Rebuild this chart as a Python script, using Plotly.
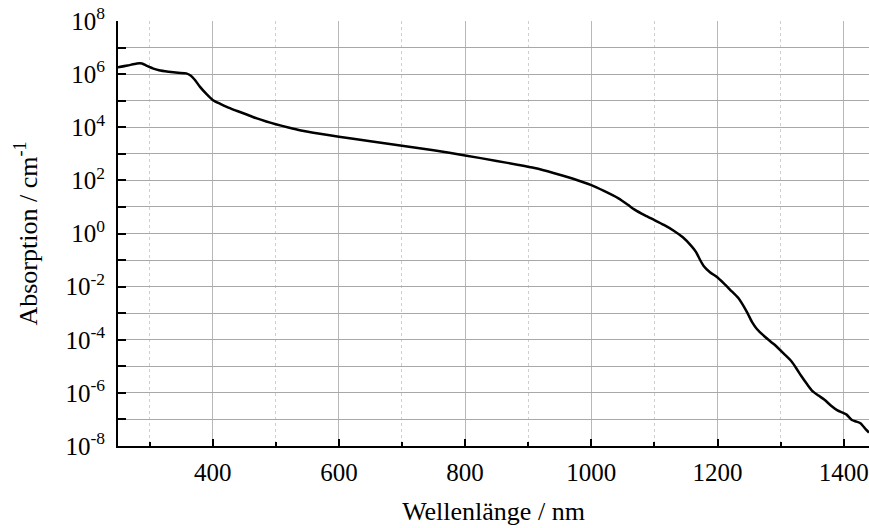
import plotly.graph_objects as go

# Wavelength (nm) and absorption coefficient (1/cm)
wavelength = [250, 265, 280, 288, 295, 305, 315, 330, 345, 358, 365, 372, 380, 390,
              400, 412, 425, 440, 455, 470, 485, 500, 520, 540, 570, 600, 650, 700,
              750, 800, 850, 885, 910, 940, 970, 1000, 1020, 1043, 1058, 1068, 1085,
              1100, 1115, 1130, 1145, 1158, 1166, 1172, 1178, 1188, 1198, 1210, 1220,
              1233, 1246, 1255, 1262, 1275, 1290, 1305, 1317, 1325, 1333, 1342, 1350,
              1360, 1369, 1380, 1390, 1404, 1413, 1420, 1427, 1435, 1440]
absorption = [1.8e6, 2.1e6, 2.5e6, 2.5e6, 2.1e6, 1.65e6, 1.4e6, 1.23e6, 1.12e6, 1.07e6,
              8.9e5, 6.0e5, 3.3e5, 1.8e5, 1.07e5, 7.6e4, 5.5e4, 4.0e4, 2.95e4, 2.15e4,
              1.65e4, 1.3e4, 9.8e3, 7.6e3, 5.7e3, 4.4e3, 2.95e3, 2.0e3, 1.35e3, 8.7e2,
              5.4e2, 3.8e2, 2.9e2, 1.9e2, 1.17e2, 66, 40, 21, 12, 8.1, 4.8, 3.2, 2.1,
              1.3, 0.72, 0.35, 0.2, 0.105, 0.06, 0.035, 0.024, 0.0132, 7.6e-3, 3.7e-3,
              1.17e-3, 4.5e-4, 2.6e-4, 1.3e-4, 6.6e-5, 3.0e-5, 1.55e-5, 8.3e-6, 4.2e-6,
              2.1e-6, 1.2e-6, 7.9e-7, 5.6e-7, 3.3e-7, 2.2e-7, 1.55e-7, 9.5e-8, 8.3e-8,
              7.1e-8, 4.2e-8, 3.2e-8]

y_exponents = list(range(-8, 9))
y_tickvals = [10.0 ** e for e in y_exponents]
y_ticktext = [("10<sup>%d</sup>" % e) if e % 2 == 0 else "" for e in y_exponents]

x_major = [400, 600, 800, 1000, 1200, 1400]
x_labels = ["400", "600", "800", "1000", "1200", "1400"]
x_minor = [300, 500, 700, 900, 1100, 1300]

FONT = "Liberation Serif, Times New Roman, serif"

fig = go.Figure()
fig.add_trace(go.Scatter(
    x=wavelength, y=absorption, mode="lines",
    line=dict(color="black", width=2.5, shape="spline", smoothing=0.6),
    showlegend=False, hoverinfo="x+y"))

fig.update_layout(
    width=869, height=528,
    margin=dict(l=118, r=0, t=21, b=82),
    paper_bgcolor="white", plot_bgcolor="white",
    font=dict(family=FONT, size=25, color="black"),
    xaxis=dict(
        range=[250, 1440],
        tickmode="array", tickvals=x_major, ticktext=x_labels,
        ticks="inside", ticklen=7, tickwidth=2, tickcolor="black",
        showgrid=True, gridcolor="#b8b8b8", gridwidth=1.2,
        minor=dict(tickmode="array", tickvals=x_minor,
                   ticks="inside", ticklen=4, tickwidth=2, tickcolor="black",
                   showgrid=True, gridcolor="#cfcfcf", griddash="dot", gridwidth=1),
        showline=True, linecolor="black", linewidth=2,
        zeroline=False,
        tickfont=dict(family=FONT, size=25),
        ticklabelstandoff=3,
        ticklabeloverflow="allow",
        title=dict(text="Wellenlänge / nm", font=dict(family=FONT, size=26), standoff=17),
    ),
    yaxis=dict(
        type="log", range=[-8, 8],
        tickmode="array", tickvals=y_tickvals, ticktext=y_ticktext,
        ticks="inside", ticklen=8, tickwidth=2, tickcolor="black",
        showgrid=True, gridcolor="#a8a8a8", gridwidth=1.2,
        showline=True, linecolor="black", linewidth=2,
        zeroline=False,
        tickfont=dict(family=FONT, size=25),
        ticklabelstandoff=6,
        ticklabeloverflow="allow",
        title=dict(text="Absorption / cm<sup>-1</sup>", font=dict(family=FONT, size=26), standoff=20),
    ),
)

fig.write_html("out.html")
